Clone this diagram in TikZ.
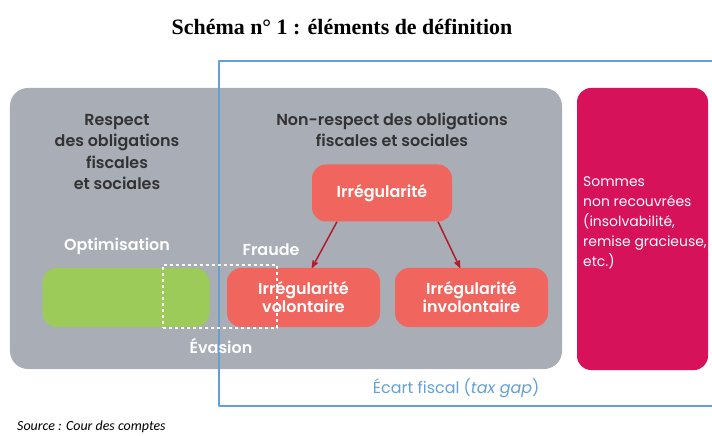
\documentclass[tikz,border=0pt]{standalone}
\usepackage{fontspec}
\setmainfont{Liberation Serif}
\newfontfamily\diagfont{Poppins}[BoldFont={Poppins SemiBold}]
\newfontfamily\sourcefont{Carlito}
\usetikzlibrary{arrows,positioning}
\definecolor{grisfond}{RGB}{168,173,182}
\definecolor{rouge}{RGB}{240,102,94}
\definecolor{rougefonce}{RGB}{178,28,44}
\definecolor{vert}{RGB}{157,203,90}
\definecolor{framboise}{RGB}{214,18,90}
\definecolor{bleu}{RGB}{98,160,214}

\begin{document}
\begin{tikzpicture}[x=1bp,y=-1bp,>=stealth',line join=bevel,
  boite/.style={draw=none,rounded corners=14bp,inner sep=0pt},
  entete/.style={font=\diagfont\bfseries\fontsize{16}{21.5}\selectfont,text=black!80,align=center},
  blanc/.style={font=\diagfont\bfseries\fontsize{16}{18}\selectfont,text=white,align=center},
  fleche/.style={->,rougefonce,line width=1.5bp}]
%
  \useasboundingbox (0,0) rectangle (712,436);
  \node (titre) at (342,27) [font=\bfseries\fontsize{22}{24}\selectfont] {Schéma n° 1 : éléments de définition};
  \node (fond) at (286,228.5) [boite,fill=grisfond,rounded corners=18bp,minimum width=552bp,minimum height=281bp] {};
  \node (sommes) at (642.5,229) [boite,fill=framboise,minimum width=131bp,minimum height=282bp] {};
  \node (ecart) at (466.5,233.5) [draw=bleu,line width=2bp,minimum width=495bp,minimum height=345bp] {};
  \node (respect) at (117,152) [entete] {Respect\\des obligations\\fiscales\\et sociales};
  \node (nonrespect) at (392,130) [entete] {Non-respect des obligations\\fiscales et sociales};
  \node (irr) at (382,193) [boite,fill=rouge,minimum width=140bp,minimum height=57bp,blanc] {Irrégularité};
  \node (vol) at (303.5,297.5) [boite,fill=rouge,minimum width=153bp,minimum height=59bp,blanc] {Irrégularité\\volontaire};
  \node (invol) at (471.5,297.5) [boite,fill=rouge,minimum width=153bp,minimum height=59bp,blanc] {Irrégularité\\involontaire};
  \node (optim) at (126,297.5) [boite,fill=vert,minimum width=167bp,minimum height=59bp] {};
  \node (zone) at (220,296.5) [draw=white,dashed,line width=1.2bp,minimum width=114bp,minimum height=63bp,inner sep=0pt] {};
  \node (optimlabel) at (117,246) [blanc] {Optimisation};
  \node (fraude) at (271,250) [blanc] {Fraude};
  \node (evasion) at (221,346) [blanc] {Évasion};
  \draw [fleche] ([xshift=-45bp]irr.south) -- ([xshift=8.5bp]vol.north);
  \draw [fleche] ([xshift=56bp]irr.south) -- ([xshift=-11.5bp]invol.north);
  \node (sommestexte) at (581,174) [anchor=north west,inner sep=2bp,align=left,text=white,font=\diagfont\fontsize{14}{20.3}\selectfont] {Sommes\\non recouvrées\\(insolvabilité,\\remise gracieuse,\\etc.)};
  \node (ecartlabel) at (543,388) [anchor=east,text=bleu,font=\diagfont\fontsize{16}{18}\selectfont] {Écart fiscal (\textit{tax gap})};
  \node (source) at (17,430) [anchor=base west,inner sep=0pt,font=\sourcefont\itshape\fontsize{14}{15}\selectfont] {Source : Cour des comptes};
%
\end{tikzpicture}
\end{document}
